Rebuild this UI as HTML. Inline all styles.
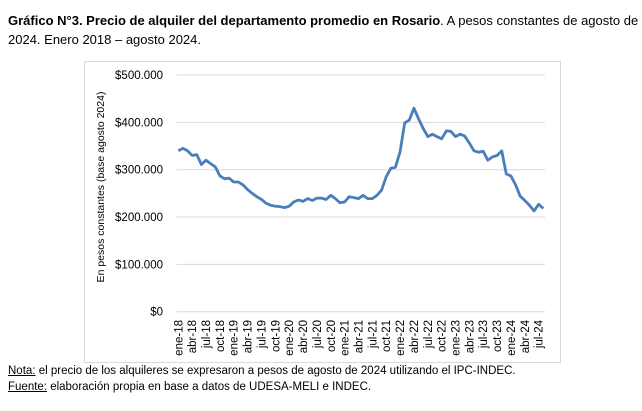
<!DOCTYPE html>
<html><head><meta charset="utf-8"><style>
body{margin:0;background:#fff;width:642px;height:411px;overflow:hidden;font-family:"Liberation Sans",Arial,sans-serif;}
.t{position:absolute;left:8px;top:11px;font-size:13px;line-height:19px;color:#000;width:640px;white-space:nowrap}
.n{position:absolute;left:8px;font-size:11.5px;color:#000;white-space:nowrap}
</style></head><body>
<div class="t"><b>Gráfico N°3. Precio de alquiler del departamento promedio en Rosario</b>. A pesos constantes de agosto de<br>2024. Enero 2018 – agosto 2024.</div>
<svg width="642" height="411" style="position:absolute;left:0;top:0">
<rect x="84.5" y="61.5" width="476" height="301" fill="none" stroke="#d9d9d9"/>
<g id="g" font-family="Liberation Sans, Arial, sans-serif" font-size="11.5" fill="#000"></g>
<polyline id="p" fill="none" stroke="#4a7ebb" stroke-width="2.8" stroke-linejoin="round"/>
</svg>
<div class="n" style="top:365px"><u>Nota:</u> el precio de los alquileres se expresaron a pesos de agosto de 2024 utilizando el IPC-INDEC.</div>
<div class="n" style="top:381px"><u>Fuente:</u> elaboración propia en base a datos de UDESA-MELI e INDEC.</div>
<script>
var v=[340,345,340,330,332,311,320,313,306,287,281,282,274,274,268,258,250,243,237,229,225,223,222,220,223,232,236,233,239,235,240,240,237,246,239,230,232,243,241,239,246,239,239,246,257,285,303,305,338,399,405,430,408,387,370,375,370,365,382,381,370,375,371,356,340,337,339,320,327,330,340,291,287,268,244,235,225,213,227,218];
function Y(k){return 311.7-k*0.4733;}
function X(i){return 178.3+i*4.62;}
var g=document.getElementById('g'),s='';
var labs=['$0','$100.000','$200.000','$300.000','$400.000','$500.000'];
for(var i=0;i<6;i++){var y=Y(i*100);
s+='<line x1="176.5" x2="545" y1="'+y+'" y2="'+y+'" stroke="#d9d9d9" stroke-width="1"/>';
s+='<text x="163" y="'+(y+4)+'" text-anchor="end">'+labs[i]+'</text>';}
var m=['ene','abr','jul','oct'];
for(var i=0;i<80;i+=3){var x=X(i)+4,yr=18+Math.floor(i/12);
s+='<text transform="translate('+x+',320) rotate(-90)" text-anchor="end">'+m[(i%12)/3]+'-'+yr+'</text>';}
s+='<text transform="translate(104,187) rotate(-90)" text-anchor="middle" font-size="10.5">En pesos constantes (base agosto 2024)</text>';
g.innerHTML=s;
var pts=v.map(function(k,i){return X(i).toFixed(1)+','+Y(k).toFixed(1)}).join(' ');
document.getElementById('p').setAttribute('points',pts);
</script>
</body></html>
